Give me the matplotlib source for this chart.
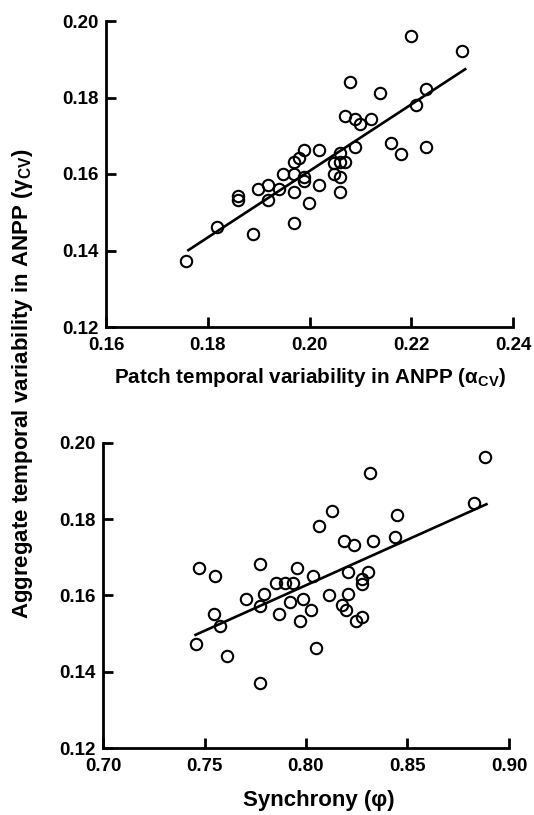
import matplotlib
matplotlib.use("Agg")
import matplotlib.pyplot as plt

plt.rcParams['font.family'] = ['Liberation Sans', 'DejaVu Sans']
plt.rcParams['font.weight'] = 'bold'
plt.rcParams['mathtext.default'] = 'regular'

# ---- data: top panel (patch variability vs aggregate variability) ----
alpha_cv = [0.1758, 0.1819, 0.1888, 0.1859, 0.1859, 0.1899, 0.1919, 0.1919,
            0.1940, 0.1948, 0.1969, 0.1979, 0.1989, 0.1969, 0.1989, 0.1989,
            0.1969, 0.1969, 0.1999, 0.2019, 0.2019, 0.2049, 0.2049, 0.2059,
            0.2059, 0.2069, 0.2059, 0.2059, 0.2069, 0.2079, 0.2090, 0.2100,
            0.2090, 0.2120, 0.2139, 0.2160, 0.2179, 0.2199, 0.2209, 0.2229,
            0.2229, 0.2299]
gamma_cv_top = [0.1372, 0.1461, 0.1442, 0.1543, 0.1532, 0.1561, 0.1572, 0.1532,
                0.1561, 0.1601, 0.1631, 0.1642, 0.1662, 0.1601, 0.1593, 0.1581,
                0.1552, 0.1472, 0.1523, 0.1662, 0.1572, 0.1630, 0.1601, 0.1654,
                0.1632, 0.1632, 0.1593, 0.1552, 0.1751, 0.1841, 0.1743, 0.1730,
                0.1671, 0.1743, 0.1811, 0.1682, 0.1652, 0.1962, 0.1781, 0.1822,
                0.1671, 0.1921]
top_fit_x = [0.1762, 0.2306]
top_fit_y = [0.1401, 0.1874]

# ---- data: bottom panel (synchrony vs aggregate variability) ----
synchrony = [0.7456, 0.7474, 0.7552, 0.7546, 0.7574, 0.7611, 0.7703, 0.7775,
             0.7775, 0.7795, 0.7775, 0.7854, 0.7897, 0.7934, 0.7866, 0.7923,
             0.7956, 0.7985, 0.7972, 0.8026, 0.8036, 0.8048, 0.8066, 0.8115,
             0.8128, 0.8185, 0.8179, 0.8195, 0.8205, 0.8205, 0.8236, 0.8244,
             0.8277, 0.8275, 0.8275, 0.8303, 0.8316, 0.8328, 0.8436, 0.8446,
             0.8828, 0.8884]
gamma_cv_bot = [0.1472, 0.1673, 0.1652, 0.1552, 0.1521, 0.1442, 0.1591, 0.1682,
                0.1572, 0.1603, 0.1372, 0.1632, 0.1632, 0.1632, 0.1552, 0.1582,
                0.1672, 0.1591, 0.1532, 0.1562, 0.1652, 0.1462, 0.1782, 0.1602,
                0.1822, 0.1743, 0.1574, 0.1562, 0.1661, 0.1603, 0.1731, 0.1532,
                0.1543, 0.1642, 0.1630, 0.1661, 0.1921, 0.1742, 0.1752, 0.1811,
                0.1842, 0.1962]
bot_fit_x = [0.7456, 0.8889]
bot_fit_y = [0.1497, 0.1839]

top_xticks = [0.16, 0.18, 0.20, 0.22, 0.24]
bot_xticks = [0.70, 0.75, 0.80, 0.85, 0.90]
yticks = [0.12, 0.14, 0.16, 0.18, 0.20]

W, H = 534, 815
fig = plt.figure(figsize=(W / 100, H / 100), dpi=100)

ax1 = fig.add_axes([106 / W, 1 - 327 / H, 407 / W, 306 / H])
ax2 = fig.add_axes([103 / W, 1 - 748.3 / H, 406 / W, 305.6 / H])

def style(ax, xticks, xfmt):
    for s in ['top', 'right']:
        ax.spines[s].set_visible(False)
    for s in ['left', 'bottom']:
        ax.spines[s].set_linewidth(2.0)
    ax.set_ylim(0.12, 0.20)
    ax.set_xlim(xticks[0], xticks[-1])
    ax.set_yticks(yticks)
    ax.set_yticklabels([f"{v:.2f}" for v in yticks])
    ax.set_xticks(xticks)
    ax.set_xticklabels([xfmt.format(v) for v in xticks])
    ax.tick_params(direction='in', length=7.5, width=2.0, labelsize=13.5)
    ax.tick_params(axis='y', pad=5)
    ax.tick_params(axis='x', pad=7)
    for lab in ax.get_xticklabels() + ax.get_yticklabels():
        lab.set_fontweight('bold')

mk = dict(linestyle='none', marker='o', ms=8.2, mfc='none', mec='black', mew=1.5)

ax1.plot(alpha_cv, gamma_cv_top, **mk)
ax1.plot(top_fit_x, top_fit_y, color='black', lw=1.9)
style(ax1, top_xticks, "{:.2f}")
ax1.set_xlabel(r'Patch temporal variability in ANPP (α$_{\mathregular{CV}}$)',
               fontsize=14.9, fontweight='bold', labelpad=9)

ax2.plot(synchrony, gamma_cv_bot, **mk)
ax2.plot(bot_fit_x, bot_fit_y, color='black', lw=1.9)
style(ax2, bot_xticks, "{:.2f}")
ax2.set_xlabel('Synchrony (φ)', fontsize=16, fontweight='bold', labelpad=8)
ax2.xaxis.set_label_coords((319 - 103) / 406, -0.135)
ax2.xaxis.label.set_va('top')

fig.text(23 / W, 1 - 384 / H,
         r'Aggregate temporal variability in ANPP (γ$_{\mathregular{CV}}$)',
         rotation=90, ha='center', va='center', fontsize=16, fontweight='bold')

fig.savefig('out.png', dpi=100)
